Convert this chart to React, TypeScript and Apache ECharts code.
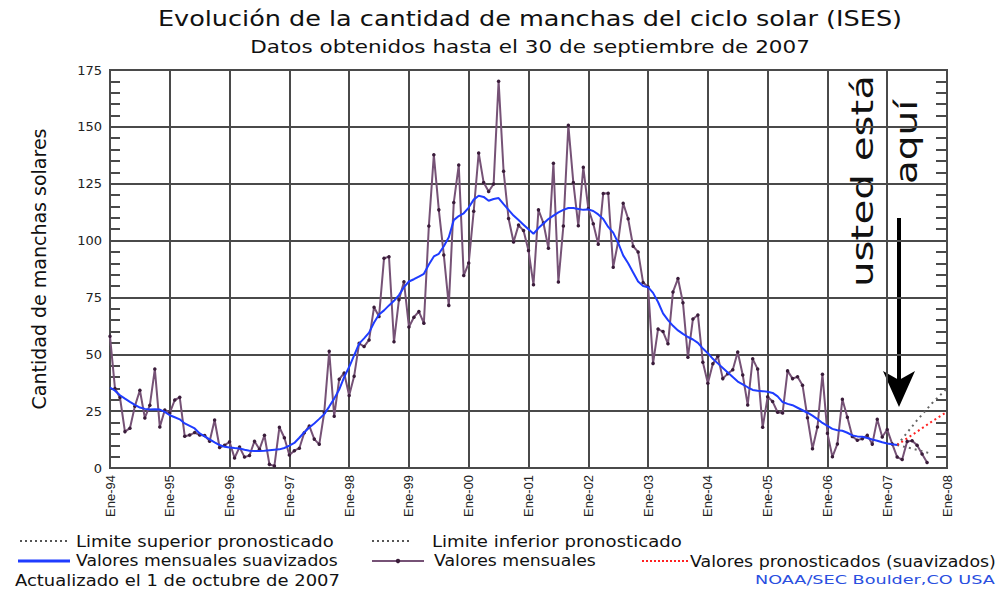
import React, { useEffect, useRef } from "react";
import * as echarts from "echarts";

// ---------- data ----------
const xTickLabels = [
  "Ene-94", "Ene-95", "Ene-96", "Ene-97", "Ene-98", "Ene-99", "Ene-00",
  "Ene-01", "Ene-02", "Ene-03", "Ene-04", "Ene-05", "Ene-06", "Ene-07", "Ene-08",
];

// monthly sunspot numbers (Jan 1994 .. Sep 2007)
const monthly1994 = [57.9, 35.0, 31.0, 16.0, 17.5, 27.2, 34.2, 22.0, 27.6, 43.5, 18.0, 25.5];
const monthly1995 = [24.2, 29.9, 31.1, 14.0, 14.5, 15.6, 14.5, 14.3, 11.8, 21.1, 9.0, 10.0];
const monthly1996 = [11.5, 4.4, 9.2, 4.8, 5.5, 11.8, 8.2, 14.4, 1.6, 0.9, 17.9, 13.3];
const monthly1997 = [5.7, 7.6, 8.7, 15.5, 18.5, 12.7, 10.4, 24.4, 51.3, 22.8, 39.0, 41.8];
const monthly1998 = [31.9, 40.3, 54.8, 53.4, 56.3, 70.7, 66.6, 92.2, 92.9, 55.5, 74.0, 81.9];
const monthly1999 = [62.0, 66.3, 68.8, 63.7, 106.4, 137.7, 113.5, 93.7, 71.5, 116.7, 133.2, 84.6];
const monthly2000 = [90.1, 112.9, 138.5, 125.5, 121.6, 124.9, 170.1, 130.5, 109.7, 99.4, 106.8, 104.4];
const monthly2001 = [95.6, 80.6, 113.5, 107.7, 96.6, 134.0, 81.8, 106.4, 150.7, 125.5, 106.5, 132.2];
const monthly2002 = [114.1, 107.4, 98.4, 120.7, 120.8, 88.3, 99.6, 116.4, 109.6, 97.5, 95.0, 81.6];
const monthly2003 = [79.7, 46.0, 61.1, 60.0, 54.6, 77.4, 83.3, 72.7, 48.7, 65.5, 67.3, 46.5];
const monthly2004 = [37.3, 45.8, 49.1, 39.3, 41.5, 43.2, 51.0, 40.9, 27.7, 48.0, 43.5, 17.9];
const monthly2005 = [31.3, 29.2, 24.5, 24.2, 42.7, 39.3, 40.1, 36.4, 22.1, 8.5, 18.0, 41.2];
const monthly2006 = [15.3, 4.9, 10.6, 30.2, 22.3, 13.9, 12.2, 12.9, 14.4, 10.5, 21.4, 13.6];
const monthly2007 = [16.9, 10.6, 4.8, 3.7, 11.7, 12.0, 10.0, 6.2, 2.4];

// smoothed monthly values (Jan 1994 .. Mar 2007)
const smoothed1994 = [35.4, 34.0, 32.0, 30.5, 29.1, 27.8, 26.6, 26.0, 25.7, 25.8, 25.7, 24.7];
const smoothed1995 = [23.2, 22.3, 21.4, 19.6, 18.5, 17.4, 15.2, 13.9, 12.6, 11.3, 10.1, 9.3];
const smoothed1996 = [9.0, 8.8, 8.6, 8.0, 7.6, 7.5, 7.5, 7.6, 7.8, 8.0, 8.2, 8.8];
const smoothed1997 = [9.8, 11.0, 13.3, 15.7, 17.8, 19.6, 21.6, 23.7, 27.0, 30.5, 34.5, 40.0];
const smoothed1998 = [44.4, 49.5, 54.7, 57.0, 59.5, 64.0, 67.5, 69.3, 71.5, 73.5, 76.0, 79.5];
const smoothed1999 = [82.0, 83.0, 84.2, 85.4, 89.5, 93.0, 94.2, 97.5, 101.5, 109.0, 110.8, 112.0];
const smoothed2000 = [114.5, 118.0, 119.7, 119.2, 117.5, 118.3, 118.7, 116.0, 113.5, 111.0, 109.0, 107.0];
const smoothed2001 = [105.0, 103.0, 105.5, 107.5, 109.5, 111.0, 112.4, 113.5, 114.3, 114.3, 113.9, 113.5];
const smoothed2002 = [113.7, 113.0, 111.5, 109.5, 106.0, 103.5, 99.0, 93.5, 90.0, 86.0, 82.0, 80.0];
const smoothed2003 = [79.5, 77.0, 73.0, 68.0, 65.0, 62.5, 60.5, 59.0, 57.6, 56.5, 55.0, 52.5];
const smoothed2004 = [50.5, 48.0, 46.0, 44.0, 42.0, 40.0, 38.0, 36.8, 35.5, 34.3, 34.0, 33.8];
const smoothed2005 = [33.5, 33.0, 31.5, 29.0, 28.2, 27.6, 26.5, 25.4, 24.3, 23.0, 21.5, 19.8];
const smoothed2006 = [18.5, 17.2, 16.6, 16.4, 15.5, 14.3, 13.9, 13.7, 13.2, 12.5, 12.0, 11.3];
const smoothed2007 = [10.8, 10.4, 10.1];

// forecasts (month index counted from Jan 1994)
const forecastMonthIndex = [158, 162, 165, 168];
const predictedSmoothed = [10.1, 16.0, 20.5, 24.7];
const upperLimit = [10.1, 21.0, 28.5, 35.0];
const lowerLimit = [10.1, 8.0, 6.2];

const monthlyValues = [
  ...monthly1994, ...monthly1995, ...monthly1996, ...monthly1997, ...monthly1998,
  ...monthly1999, ...monthly2000, ...monthly2001, ...monthly2002, ...monthly2003,
  ...monthly2004, ...monthly2005, ...monthly2006, ...monthly2007,
];
const smoothedValues = [
  ...smoothed1994, ...smoothed1995, ...smoothed1996, ...smoothed1997, ...smoothed1998,
  ...smoothed1999, ...smoothed2000, ...smoothed2001, ...smoothed2002, ...smoothed2003,
  ...smoothed2004, ...smoothed2005, ...smoothed2006, ...smoothed2007,
];

// ---------- helpers ----------
const SANS = "'DejaVu Sans', sans-serif";
let measureCtx: CanvasRenderingContext2D | null = null;
function fitScale(text: string, size: number, family: string, width: number): number {
  if (!measureCtx) measureCtx = document.createElement("canvas").getContext("2d");
  if (!measureCtx) return 1;
  measureCtx.font = `${size}px ${family}`;
  const w = measureCtx.measureText(text).width;
  return w > 0 ? width / w : 1;
}

function stretchedText(
  text: string, x: number, y: number, size: number, width: number,
  opts: { align?: string; rotation?: number; fill?: string; family?: string; weight?: string } = {}
) {
  const family = opts.family || SANS;
  return {
    type: "text",
    x, y,
    rotation: opts.rotation || 0,
    scaleX: fitScale(text, size, family, width),
    silent: true,
    style: {
      text,
      fontSize: size,
      fontFamily: family,
      fontWeight: opts.weight || "normal",
      fill: opts.fill || "#111",
      textAlign: opts.align || "left",
      textVerticalAlign: "middle",
    },
  };
}

const GRID_COLOR = "#4a4a4a";
const PURPLE = "#765276";
const BLUE = "#1f3cff";

export default function App() {
  const ref = useRef<HTMLDivElement>(null);

  useEffect(() => {
    if (!ref.current) return;
    const chart = echarts.init(ref.current, null, { renderer: "svg" });

    const legendY1 = 541;
    const legendY2 = 561;
    const legendY3 = 580;

    const option: any = {
      animation: false,
      backgroundColor: "#ffffff",
      grid: {
        left: 110, right: 53, top: 70, bottom: 124,
        show: true, borderColor: GRID_COLOR, borderWidth: 2, backgroundColor: "#ffffff",
      },
      xAxis: {
        type: "value",
        min: 0, max: 168, interval: 12,
        axisLine: { show: true, lineStyle: { color: GRID_COLOR, width: 2 } },
        axisTick: { show: false },
        splitLine: { show: true, lineStyle: { color: GRID_COLOR, width: 2 } },
        axisLabel: {
          rotate: 90, margin: 7,
          fontFamily: "'Liberation Sans', Arial, sans-serif", fontSize: 13, color: "#222",
          formatter: (v: number) => xTickLabels[Math.round(v / 12)] || "",
        },
      },
      yAxis: [
        {
          type: "value", min: 0, max: 175, interval: 25, position: "left",
          name: "Cantidad de manchas solares", nameLocation: "middle", nameGap: 62, nameRotate: 90,
          nameTextStyle: { fontFamily: SANS, fontSize: 19, color: "#111" },
          axisLine: { show: true, lineStyle: { color: GRID_COLOR, width: 2 } },
          axisTick: { show: true, inside: true, length: 10, lineStyle: { color: GRID_COLOR, width: 2 } },
          minorTick: { show: true, splitNumber: 5, length: 10, lineStyle: { color: GRID_COLOR, width: 2 } },
          splitLine: { show: true, lineStyle: { color: GRID_COLOR, width: 2 } },
          axisLabel: { fontFamily: SANS, fontSize: 13, color: "#222", margin: 8 },
        },
        {
          type: "value", min: 0, max: 175, interval: 25, position: "right",
          axisLine: { show: true, lineStyle: { color: GRID_COLOR, width: 2 } },
          axisTick: { show: true, inside: true, length: 11, lineStyle: { color: GRID_COLOR, width: 2 } },
          minorTick: { show: true, splitNumber: 5, length: 11, lineStyle: { color: GRID_COLOR, width: 2 } },
          splitLine: { show: false },
          axisLabel: { show: false },
        },
      ],
      series: [
        {
          name: "Valores mensuales",
          type: "line",
          data: monthlyValues.map((v, i) => [i, v]),
          symbol: "circle", symbolSize: 3.5, showSymbol: true,
          lineStyle: { color: PURPLE, width: 2 },
          itemStyle: { color: "#3a1c3a" },
          z: 3,
        },
        {
          name: "Valores mensuales suavizados",
          type: "line",
          data: smoothedValues.map((v, i) => [i, v]),
          symbol: "none",
          lineStyle: { color: BLUE, width: 2 },
          z: 4,
        },
        {
          name: "Limite superior pronosticado",
          type: "line",
          data: upperLimit.map((v, i) => [forecastMonthIndex[i], v]),
          symbol: "none",
          lineStyle: { color: "#666", width: 2, type: [2, 4] },
          z: 2,
        },
        {
          name: "Limite inferior pronosticado",
          type: "line",
          data: lowerLimit.map((v, i) => [forecastMonthIndex[i], v]),
          symbol: "none",
          lineStyle: { color: "#666", width: 2, type: [2, 4] },
          z: 2,
        },
        {
          name: "Valores pronosticados (suavizados)",
          type: "line",
          data: predictedSmoothed.map((v, i) => [forecastMonthIndex[i], v]),
          symbol: "none",
          lineStyle: { color: "#ff2020", width: 2, type: [2, 3] },
          z: 2,
        },
      ],
      graphic: [
        // titles
        stretchedText("Evolución de la cantidad de manchas del ciclo solar (ISES)", 530, 19, 21, 745, { align: "center" }),
        stretchedText("Datos obtenidos hasta el 30 de septiembre de 2007", 530, 47, 17, 560, { align: "center" }),
        // annotation
        stretchedText("usted está", 862, 287, 30, 212, { rotation: Math.PI / 2 }),
        stretchedText("aquí", 907, 184, 30, 84, { rotation: Math.PI / 2 }),
        {
          type: "line", silent: true,
          shape: { x1: 899, y1: 218, x2: 899, y2: 382 },
          style: { stroke: "#000", lineWidth: 4 },
        },
        {
          type: "polygon", silent: true,
          shape: { points: [[883, 371], [899, 380], [915, 371], [899, 407]] },
          style: { fill: "#000" },
        },
        // legend row 1
        {
          type: "line", silent: true,
          shape: { x1: 20, y1: legendY1, x2: 70, y2: legendY1 },
          style: { stroke: "#555", lineWidth: 2, lineDash: [2, 3] },
        },
        stretchedText("Limite superior pronosticado", 76, legendY1, 16, 258),
        {
          type: "line", silent: true,
          shape: { x1: 372, y1: legendY1, x2: 412, y2: legendY1 },
          style: { stroke: "#555", lineWidth: 2, lineDash: [2, 3] },
        },
        stretchedText("Limite inferior pronosticado", 432, legendY1, 16, 250),
        // legend row 2
        {
          type: "line", silent: true,
          shape: { x1: 18, y1: legendY2, x2: 70, y2: legendY2 },
          style: { stroke: BLUE, lineWidth: 3 },
        },
        stretchedText("Valores mensuales suavizados", 76, legendY2, 16, 262),
        {
          type: "line", silent: true,
          shape: { x1: 372, y1: legendY2, x2: 424, y2: legendY2 },
          style: { stroke: PURPLE, lineWidth: 2 },
        },
        {
          type: "circle", silent: true,
          shape: { cx: 398, cy: legendY2, r: 2.2 },
          style: { fill: "#3a1c3a" },
        },
        stretchedText("Valores mensuales", 434, legendY2, 16, 162),
        {
          type: "line", silent: true,
          shape: { x1: 642, y1: legendY2, x2: 688, y2: legendY2 },
          style: { stroke: "#ff2020", lineWidth: 2, lineDash: [2, 2] },
        },
        stretchedText("Valores pronosticados (suavizados)", 690, legendY2, 16, 306),
        // legend row 3
        stretchedText("Actualizado el 1 de octubre de 2007", 15, legendY3, 16, 325),
        stretchedText("NOAA/SEC Boulder,CO USA", 755, legendY3, 12, 240, { fill: "#2a4fe0" }),
      ],
    };

    chart.setOption(option);
    return () => chart.dispose();
  }, []);

  return (
    <div
      ref={ref}
      style={{ position: "absolute", left: 0, top: 0, width: 1000, height: 592, background: "#fff" }}
    />
  );
}
